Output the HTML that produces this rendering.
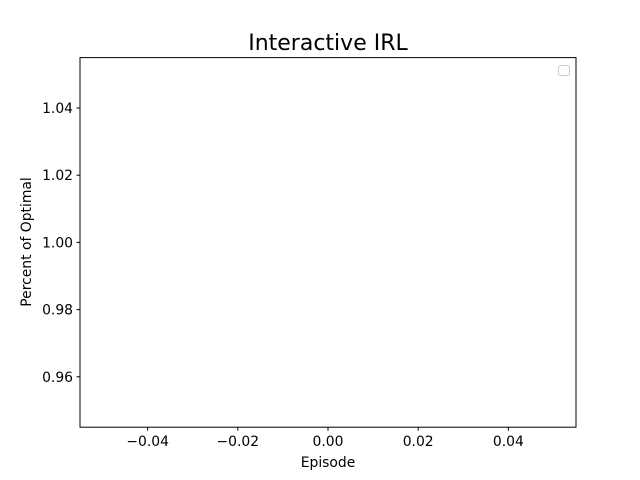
<!DOCTYPE html>
<html><head><meta charset="utf-8"><style>
html,body{margin:0;padding:0;background:#fff;}
svg{display:block;font-family:"DejaVu Sans","Liberation Sans",sans-serif;}
</style></head><body>
<svg id="chart" width="640" height="480" viewBox="0 0 640 480">
<rect width="640" height="480" fill="#fff"/>
<text x="328" y="50" font-size="22" text-anchor="middle" fill="#000">Interactive IRL</text>
<g id="ticks"></g>
<rect x="80" y="57.6" width="496" height="369.6" fill="none" stroke="#000" stroke-width="1"/>
<rect x="558.5" y="65.5" width="11" height="10" rx="2" fill="#fff" stroke="#ccc" stroke-width="1"/>
<text x="328" y="467" font-size="13.9" text-anchor="middle">Episode</text>
<text x="31" y="242" font-size="13.9" text-anchor="middle" transform="rotate(-90 31 242)">Percent of Optimal</text>
</svg>
<script>
const xTicks = [-0.04, -0.02, 0.00, 0.02, 0.04];
const xTickLabels = ["\u22120.04", "\u22120.02", "0.00", "0.02", "0.04"];
const yTicks = [0.96, 0.98, 1.00, 1.02, 1.04];
const yTickLabels = ["0.96", "0.98", "1.00", "1.02", "1.04"];
const xDomain = [-0.055, 0.055];
const yDomain = [0.945, 1.055];
const L=80,R=576,T=57.6,B=427.2;
const xs=v=>L+(v-xDomain[0])/(xDomain[1]-xDomain[0])*(R-L);
const ys=v=>B-(v-yDomain[0])/(yDomain[1]-yDomain[0])*(B-T);
const g=document.getElementById('ticks');
const NS='http://www.w3.org/2000/svg';
xTicks.forEach((v,i)=>{
  const x=xs(v);
  const l=document.createElementNS(NS,'line');
  l.setAttribute('x1',x);l.setAttribute('x2',x);l.setAttribute('y1',B);l.setAttribute('y2',B+3.5);l.setAttribute('stroke','#000');
  
  
  g.appendChild(l);
  const t=document.createElementNS(NS,'text');
  t.setAttribute('x',x);t.setAttribute('y',B+19);t.setAttribute('font-size','13.9');t.setAttribute('text-anchor','middle');
  t.textContent=xTickLabels[i];
  
  
  g.appendChild(t);
});
yTicks.forEach((v,i)=>{
  const y=ys(v);
  const l=document.createElementNS(NS,'line');
  l.setAttribute('x1',L-3.5);l.setAttribute('x2',L);l.setAttribute('y1',y);l.setAttribute('y2',y);l.setAttribute('stroke','#000');
  
  
  g.appendChild(l);
  const t=document.createElementNS(NS,'text');
  t.setAttribute('x',L-7);t.setAttribute('y',y+5);t.setAttribute('font-size','13.9');t.setAttribute('text-anchor','end');
  t.textContent=yTickLabels[i];
  
  
  g.appendChild(t);
});
</script>
</body></html>
